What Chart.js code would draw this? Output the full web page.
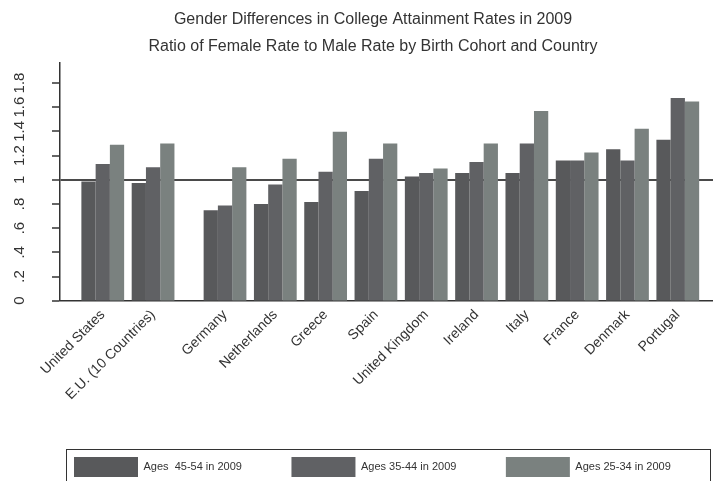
<!DOCTYPE html>
<html>
<head>
<meta charset="utf-8">
<title>College attainment by gender</title>
<script src="https://cdn.jsdelivr.net/npm/chart.js@4.4.1/dist/chart.umd.min.js"></script>
<style>
  html, body { margin: 0; padding: 0; background: #fff; }
  #wrap { width: 713px; height: 481px; }
</style>
</head>
<body>
<div id="wrap"><canvas id="chart"></canvas></div>
<script>
const countries = ['United States', 'E.U. (10 Countries)', 'Germany', 'Netherlands', 'Greece', 'Spain',
  'United Kingdom', 'Ireland', 'Italy', 'France', 'Denmark', 'Portugal'];
const ages4554 = [0.985, 0.974, 0.748, 0.80, 0.815, 0.906, 1.026, 1.055, 1.055, 1.159, 1.253, 1.33];
const ages3544 = [1.13, 1.104, 0.786, 0.96, 1.065, 1.173, 1.055, 1.146, 1.30, 1.159, 1.159, 1.675];
const ages2534 = [1.29, 1.30, 1.104, 1.173, 1.397, 1.30, 1.093, 1.30, 1.568, 1.225, 1.421, 1.647];
const seriesNames = ['Ages  45-54 in 2009', 'Ages 35-44 in 2009', 'Ages 25-34 in 2009'];
const yTicks = [0, 0.2, 0.4, 0.6, 0.8, 1, 1.2, 1.4, 1.6, 1.8];
const yTickLabels = ['0', '.2', '.4', '.6', '.8', '1', '1.2', '1.4', '1.6', '1.8'];

const FONT = "'Liberation Sans', Arial, sans-serif";
const INK = '#333';

// US and the EU aggregate come first, then a wider gap before the single countries
const slot = i => i + (i >= 2 ? 0.43 : 0);

function series(values) {
  return values.map((v, i) => ({ x: slot(i), y: v }));
}

// frame around the legend row
const legendFrame = {
  id: 'legendFrame',
  afterDraw(chart) {
    const boxes = chart.legend && chart.legend.legendHitBoxes;
    if (!boxes || !boxes.length) return;
    const ctx = chart.ctx;
    const first = boxes[0];
    const left = Math.round(first.left - 8);
    const top = Math.round(first.top - 8);
    ctx.save();
    ctx.strokeStyle = INK;
    ctx.lineWidth = 1;
    ctx.strokeRect(left + 0.5, top + 0.5, chart.width - 3 - left, 60);
    ctx.restore();
  }
};

const ctx = document.getElementById('chart').getContext('2d');
const chart = new Chart(ctx, {
  type: 'bar',
  data: {
    datasets: [
      { label: seriesNames[0], data: series(ages4554), backgroundColor: '#58595b' },
      { label: seriesNames[1], data: series(ages3544), backgroundColor: '#606164' },
      { label: seriesNames[2], data: series(ages2534), backgroundColor: '#7a817f' }
    ]
  },
  options: {
    responsive: true,
    maintainAspectRatio: false,
    animation: false,
    events: [],
    // the plot runs right up to the canvas edge
    layout: { padding: { left: 24.5, right: -8.5, top: 0, bottom: 0 } },
    datasets: {
      bar: { categoryPercentage: 0.85, barPercentage: 1.0, borderWidth: 0 }
    },
    scales: {
      x: {
        type: 'linear',
        offset: false,
        min: -0.85,
        max: 12.13,
        afterBuildTicks: scale => {
          scale.ticks = countries.map((c, i) => ({ value: slot(i) }));
        },
        afterFit: scale => { scale.height = 106.8; },
        grid: { display: false, drawTicks: false, offset: false },
        border: { display: true, color: INK, width: 1.5 },
        ticks: {
          autoSkip: false,
          minRotation: 45,
          maxRotation: 45,
          padding: 6,
          color: INK,
          font: { family: FONT, size: 14 },
          callback: (value, index) => countries[index]
        }
      },
      y: {
        min: 0,
        max: 1.965,
        afterBuildTicks: scale => {
          scale.ticks = yTicks.map(v => ({ value: v }));
        },
        afterFit: scale => { scale.width = 35.5; },
        grid: {
          color: c => (c.tick && c.tick.value === 1 ? '#4a4a4a' : 'rgba(0,0,0,0)'),
          lineWidth: c => (c.tick && c.tick.value === 1 ? 2 : 0),
          tickColor: INK,
          tickLength: 8,
          tickWidth: 1.5
        },
        border: { display: true, color: INK, width: 1.5 },
        ticks: {
          autoSkip: false,
          // labels sit left of the axis, reading upwards
          mirror: true,
          minRotation: 90,
          maxRotation: 90,
          crossAlign: 'center',
          padding: -51,
          color: INK,
          font: { family: FONT, size: 15 },
          callback: (value, index) => yTickLabels[index]
        }
      }
    },
    plugins: {
      title: {
        display: true,
        text: ['Gender Differences in College Attainment Rates in 2009',
               'Ratio of Female Rate to Male Rate by Birth Cohort and Country'],
        color: INK,
        font: { family: FONT, size: 16, weight: 'normal', lineHeight: 1.6875 },
        padding: { top: 6.5, bottom: 2.5 }
      },
      legend: {
        position: 'bottom',
        align: 'start',
        maxHeight: 73.5,
        labels: {
          boxWidth: 64,
          boxHeight: 20,
          padding: 49.5,
          color: INK,
          font: { family: FONT, size: 11 }
        }
      },
      tooltip: { enabled: false }
    }
  },
  plugins: [legendFrame]
});
</script>
</body>
</html>
